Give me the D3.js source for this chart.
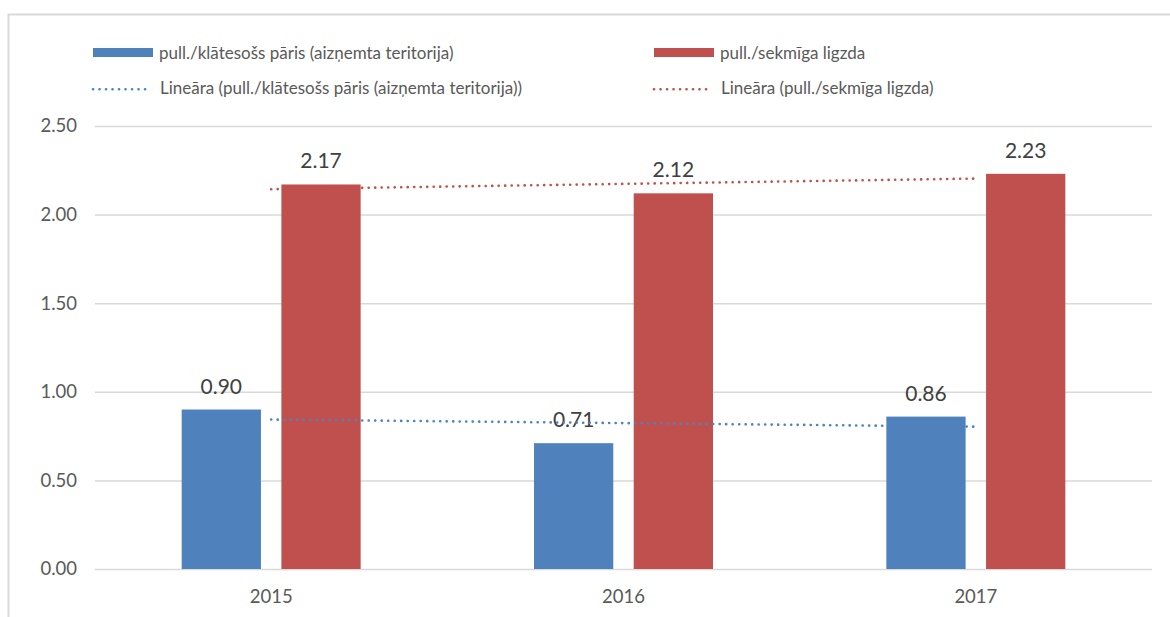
<!DOCTYPE html>
<html>
<head>
<meta charset="utf-8">
<script src="https://cdn.jsdelivr.net/npm/d3@7"></script>
<style>
  html, body { margin: 0; padding: 0; background: #fff; }
  svg { display: block; font-family: Lato, "Open Sans", sans-serif; }
</style>
</head>
<body>
<div id="chart"></div>
<script>
// chart data
var years = ['2015', '2016', '2017'];
var seriesNames = ['pull./klātesošs pāris (aizņemta teritorija)', 'pull./sekmīga ligzda'];
var trendNames = ['Lineāra (pull./klātesošs pāris (aizņemta teritorija))', 'Lineāra (pull./sekmīga ligzda)'];
var pairValues = [0.90, 0.71, 0.86];
var nestValues = [2.17, 2.12, 2.23];
var yTicks = [0, 0.5, 1.0, 1.5, 2.0, 2.5];
var colors = ['#4F81BD', '#C0504D'];

var W = 1170, H = 617;
var textColor = '#595959';

var svg = d3.select('#chart').append('svg')
  .attr('width', W)
  .attr('height', H);

// chart border (only top/left visible in the frame)
svg.append('rect')
  .attr('x', 8.5).attr('y', 14.5)
  .attr('width', W + 20).attr('height', H + 20)
  .attr('fill', 'none')
  .attr('stroke', '#D9D9D9')
  .attr('stroke-width', 2);

var plotLeft = 95, plotRight = 1152, plotTop = 126, plotBottom = 569;

var y = d3.scaleLinear().domain([0, 2.5]).range([plotBottom, plotTop]);
var x0 = d3.scaleBand().domain(years).range([plotLeft, plotRight]).padding(0);
var bw = x0.bandwidth();
var x1 = d3.scaleBand().domain([0, 1])
  .range([0.246 * bw, 0.754 * bw])
  .paddingInner(0.205);

// gridlines + y labels
var yAxis = d3.axisLeft(y)
  .tickValues(yTicks)
  .tickSize(-(plotRight - plotLeft))
  .tickPadding(18)
  .tickFormat(d3.format('.2f'));

var gy = svg.append('g')
  .attr('transform', 'translate(' + plotLeft + ',0)')
  .call(yAxis);
gy.select('.domain').remove();
gy.selectAll('line').attr('stroke', '#D9D9D9').attr('stroke-width', 1.5);
gy.selectAll('text')
  .attr('fill', textColor)
  .attr('font-size', '18.5px')
  .attr('font-family', 'Lato, sans-serif');

// x labels
var xAxis = d3.axisBottom(x0).tickSize(0).tickPadding(21);
var gx = svg.append('g')
  .attr('transform', 'translate(0,' + plotBottom + ')')
  .call(xAxis);
gx.select('.domain').remove();
gx.selectAll('text')
  .attr('fill', textColor)
  .attr('font-size', '18.5px')
  .attr('font-family', 'Lato, sans-serif');

// bars
var rows = years.map(function (yr, i) {
  return { year: yr, values: [pairValues[i], nestValues[i]] };
});

var groups = svg.selectAll('g.year')
  .data(rows)
  .enter().append('g')
  .attr('class', 'year')
  .attr('transform', function (d) { return 'translate(' + x0(d.year) + ',0)'; });

groups.selectAll('rect')
  .data(function (d) { return d.values.map(function (v, k) { return { k: k, v: v }; }); })
  .enter().append('rect')
  .attr('x', function (d) { return x1(d.k); })
  .attr('y', function (d) { return y(d.v); })
  .attr('width', x1.bandwidth())
  .attr('height', function (d) { return y(0) - y(d.v); })
  .attr('fill', function (d) { return colors[d.k]; });

// linear trendlines (least squares over category index)
function linearFit(vals) {
  var n = vals.length;
  var xs = d3.range(n);
  var mx = d3.mean(xs), my = d3.mean(vals);
  var num = d3.sum(xs, function (xi, i) { return (xi - mx) * (vals[i] - my); });
  var den = d3.sum(xs, function (xi) { return (xi - mx) * (xi - mx); });
  var b = num / den;
  var a = my - b * mx;
  return xs.map(function (xi) { return a + b * xi; });
}

var line = d3.line()
  .x(function (d, i) { return x0(years[i]) + bw / 2; })
  .y(function (d) { return y(d); });

[pairValues, nestValues].forEach(function (vals, k) {
  svg.append('path')
    .datum(linearFit(vals))
    .attr('d', line)
    .attr('fill', 'none')
    .attr('stroke', colors[k])
    .attr('stroke-width', 2.6)
    .attr('stroke-linecap', 'round')
    .attr('stroke-dasharray', '0.1 6.4');
});

// data labels
groups.selectAll('text.lbl')
  .data(function (d) { return d.values.map(function (v, k) { return { k: k, v: v }; }); })
  .enter().append('text')
  .attr('class', 'lbl')
  .attr('x', function (d) { return x1(d.k) + x1.bandwidth() / 2; })
  .attr('y', function (d) { return y(d.v) - 16; })
  .attr('text-anchor', 'middle')
  .attr('fill', '#404040')
  .attr('font-size', '21px')
  .text(function (d) { return d3.format('.2f')(d.v); });

// legend
var legendX = [93, 654];
var legend = svg.append('g').attr('font-size', '17px').attr('fill', textColor);

seriesNames.forEach(function (name, k) {
  legend.append('rect')
    .attr('x', legendX[k]).attr('y', 48)
    .attr('width', 60).attr('height', 9)
    .attr('fill', colors[k]);
  legend.append('text')
    .attr('x', legendX[k] + 66).attr('y', 58.5)
    .text(name);
});

trendNames.forEach(function (name, k) {
  legend.append('line')
    .attr('x1', legendX[k]).attr('x2', legendX[k] + 58)
    .attr('y1', 89.3).attr('y2', 89.3)
    .attr('stroke', colors[k])
    .attr('stroke-width', 2.6)
    .attr('stroke-linecap', 'round')
    .attr('stroke-dasharray', '0.1 6.4');
  legend.append('text')
    .attr('x', legendX[k] + 67).attr('y', 94)
    .text(name);
});
</script>
</body>
</html>
